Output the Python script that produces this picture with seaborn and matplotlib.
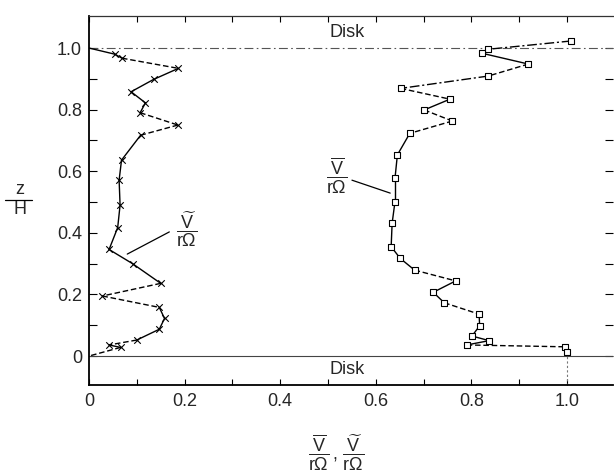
import numpy as np
import pandas as pd
import matplotlib
matplotlib.use("Agg")
import matplotlib.pyplot as plt
from matplotlib.lines import Line2D
import seaborn as sns

# Fluctuating tangential velocity  V~/(r Omega)
fluct_x = [0.000, 0.054, 0.069, 0.187, 0.135, 0.088, 0.118, 0.107, 0.186, 0.108,
           0.068, 0.063, 0.065, 0.060, 0.042, 0.091, 0.150, 0.028, 0.147, 0.158,
           0.147, 0.100, 0.042, 0.066, 0.000]
fluct_z = [1.000, 0.980, 0.967, 0.934, 0.898, 0.858, 0.822, 0.790, 0.750, 0.717,
           0.636, 0.571, 0.490, 0.417, 0.346, 0.300, 0.236, 0.195, 0.158, 0.122,
           0.087, 0.052, 0.036, 0.028, 0.000]
fluct_style = ["solid", "solid", "dashed", "solid", "solid", "solid", "solid",
               "dashed", "dashed", "solid", "solid", "solid", "solid", "solid",
               "solid", "solid", "dashed", "dashed", "solid", "solid", "solid",
               "dashed", "solid", "dashed"]

# Mean tangential velocity  V-/(r Omega)
mean_x = [1.009, 0.835, 0.822, 0.919, 0.835, 0.652, 0.755, 0.701, 0.760, 0.671,
          0.645, 0.640, 0.640, 0.634, 0.632, 0.651, 0.681, 0.767, 0.720, 0.743,
          0.816, 0.817, 0.801, 0.837, 0.790, 0.996, 1.000]
mean_z = [1.023, 0.996, 0.983, 0.948, 0.909, 0.869, 0.834, 0.799, 0.763, 0.723,
          0.653, 0.577, 0.501, 0.431, 0.355, 0.317, 0.279, 0.244, 0.207, 0.173,
          0.136, 0.098, 0.065, 0.050, 0.036, 0.030, 0.014]
mean_style = ["dashdot", "solid", "solid", "dashed", "dashdot", "dashed", "solid",
              "dashed", "dashed", "solid", "solid", "solid", "solid", "solid",
              "solid", "solid", "dashed", "solid", "solid", "dashed", "solid",
              "solid", "solid", "solid", "dashed", "solid"]

x_ticks = [0, 0.2, 0.4, 0.6, 0.8, 1.0]
x_tick_labels = ["0", "0.2", "0.4", "0.6", "0.8", "1.0"]
z_ticks = [0, 0.2, 0.4, 0.6, 0.8, 1.0]
z_tick_labels = ["0", "0.2", "0.4", "0.6", "0.8", "1.0"]


def segments(xs, zs, kinds, name):
    rows = []
    for i, k in enumerate(kinds):
        for j in (i, i + 1):
            rows.append({"x": xs[j], "z": zs[j], "seg": f"{name}{i}", "kind": k})
    return pd.DataFrame(rows)


sns.set_theme(style="ticks")
plt.rcParams["font.family"] = ["Liberation Sans", "DejaVu Sans"]
plt.rcParams["mathtext.fontset"] = "custom"
plt.rcParams["mathtext.rm"] = "Liberation Sans"
plt.rcParams["mathtext.it"] = "Liberation Sans"
plt.rcParams["mathtext.bf"] = "Liberation Sans"

W, H = 614, 474
fig = plt.figure(figsize=(W / 100, H / 100), dpi=100)
ax = fig.add_axes([89 / W, 1 - 385 / H, (613 - 89) / W, (385 - 16) / H])
ax.set_xlim(0, 1.096)
ax.set_ylim(-0.094, 1.104)

dashes = {"solid": "", "dashed": (4, 2), "dashdot": (7, 2, 1.5, 2)}
seg_df = pd.concat([segments(fluct_x, fluct_z, fluct_style, "f"),
                    segments(mean_x, mean_z, mean_style, "m")], ignore_index=True)
sns.lineplot(data=seg_df, x="x", y="z", units="seg", estimator=None, sort=False,
             style="kind", dashes=dashes, color="black", lw=1.0, legend=False,
             ax=ax, orient="y")

sns.scatterplot(x=fluct_x[1:-1], y=fluct_z[1:-1], marker="x", s=22, color="black",
                linewidth=0.8, ax=ax, zorder=3)
sns.scatterplot(x=mean_x, y=mean_z, marker="s", s=22, facecolor="white",
                edgecolor="black", linewidth=0.8, ax=ax, zorder=3)

# Disk surfaces
ax.axhline(1.0, color="#555555", lw=0.8, ls=(0, (8, 3, 1.5, 3)), zorder=1)
ax.axhline(0.0, color="#444444", lw=0.8, zorder=1)
ax.plot([1.0, 1.0], [mean_z[-1], -0.094], color="#777777", lw=0.8, ls=(0, (2, 2)))
ax.text(0.54, 1.052, "Disk", fontsize=13, ha="center", va="center")
ax.text(0.54, -0.045, "Disk", fontsize=13, ha="center", va="center")

# Curve labels with leaders
ax.text(0.205, 0.412, r"$\dfrac{\widetilde{\mathrm{V}}}{\mathrm{r\Omega}}$",
        fontsize=13, ha="center", va="center")
ax.plot([0.080, 0.168], [0.331, 0.403], color="black", lw=0.9)
ax.text(0.518, 0.585, r"$\dfrac{\overline{\mathrm{V}}}{\mathrm{r\Omega}}$",
        fontsize=13, ha="center", va="center")
ax.plot([0.550, 0.630], [0.571, 0.529], color="black", lw=0.9)

# Axes styling
ax.set_xticks(x_ticks)
ax.set_xticklabels(x_tick_labels)
ax.set_yticks(z_ticks)
ax.set_yticklabels(z_tick_labels)
ax.set_xticks(np.arange(0.1, 1.05, 0.2), minor=True)
ax.set_yticks(np.arange(0.1, 1.05, 0.2), minor=True)
ax.tick_params(axis="both", which="both", direction="in", labelsize=13,
               color="black", width=0.8)
ax.tick_params(axis="x", which="both", length=4, top=True, pad=6)
ax.tick_params(axis="y", which="both", length=6, right=True, pad=5)
for side in ("left", "bottom"):
    ax.spines[side].set_linewidth(1.3)
    ax.spines[side].set_color("black")
ax.spines["top"].set_linewidth(0.9)
ax.spines["top"].set_color("#333333")
ax.spines["right"].set_visible(False)
ax.set_xlabel("")
ax.set_ylabel("")

# Axis titles as stacked fractions
fig.text(20 / W, 1 - 189 / H, "z", fontsize=13, ha="center", va="center")
fig.text(20 / W, 1 - 210 / H, "H", fontsize=13, ha="center", va="center")
fig.add_artist(Line2D([5 / W, 32 / W], [1 - 200 / H, 1 - 200 / H],
                      color="black", lw=0.9))
fig.text(336 / W, 1 - 453 / H,
         r"$\dfrac{\overline{\mathrm{V}}}{\mathrm{r\Omega}}\,,\,"
         r"\dfrac{\widetilde{\mathrm{V}}}{\mathrm{r\Omega}}$",
         fontsize=13, ha="center", va="center")

fig.savefig("out.png", dpi=100)
